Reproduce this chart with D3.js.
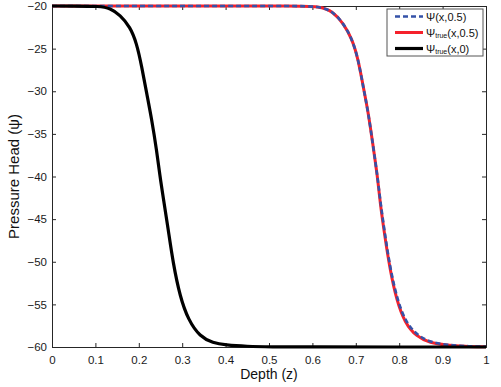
<!DOCTYPE html>
<html>
<head>
<meta charset="utf-8">
<script src="https://cdn.jsdelivr.net/npm/d3@7"></script>
<style>
  body { margin: 0; background: #fff; }
  svg { font-family: "Liberation Sans", Arial, Helvetica, sans-serif; }
</style>
</head>
<body>
<div id="chart"></div>
<script>
// ---- data ----
var xTicks = [0, 0.1, 0.2, 0.3, 0.4, 0.5, 0.6, 0.7, 0.8, 0.9, 1];
var yTicks = [-60, -55, -50, -45, -40, -35, -30, -25, -20];

// psi_true(x,0)
var xBlack   = [0, 0.05, 0.11, 0.134, 0.157, 0.180, 0.195, 0.207, 0.218, 0.230, 0.241, 0.249, 0.256, 0.268, 0.279, 0.295, 0.314, 0.341, 0.371, 0.399, 0.45, 0.5, 0.6, 0.8, 1];
var psiBlack = [-20, -20, -20.02, -20.27, -21.06, -22.46, -24.34, -27.16, -30.2, -33.37, -36.9, -40.06, -42.37, -46.28, -50.15, -54.1, -56.83, -58.8, -59.53, -59.77, -59.93, -59.98, -60, -60, -60];

// psi_true(x,0.5)
var xRed   = [0, 0.2, 0.4, 0.55, 0.6175, 0.648, 0.671, 0.691, 0.706, 0.717, 0.729, 0.740, 0.750, 0.756, 0.767, 0.779, 0.794, 0.813, 0.840, 0.871, 0.909, 0.95, 1];
var psiRed = [-20, -20, -20, -20, -20.02, -20.67, -22.03, -23.79, -26.33, -29.47, -32.55, -36.5, -40.0, -43.1, -47.06, -50.97, -54.49, -57.18, -58.79, -59.53, -59.77, -59.92, -59.97];

// psi(x,0.5)
var xBlue   = [0, 0.2, 0.4, 0.55, 0.6175, 0.648, 0.671, 0.691, 0.706, 0.717, 0.729, 0.740, 0.750, 0.757, 0.768, 0.780, 0.796, 0.815, 0.843, 0.874, 0.912, 0.95, 1];
var psiBlue = [-20, -20, -20, -20, -20.02, -20.67, -22.03, -23.79, -26.33, -29.47, -32.55, -36.5, -40.0, -43.1, -47.06, -50.97, -54.49, -57.1, -58.7, -59.48, -59.75, -59.9, -59.97];

// ---- layout ----
var W = 501, H = 387;
var margin = {top: 6, right: 15, bottom: 40, left: 52};
var width = 486 - margin.left,
    height = 347 - margin.top;

var svg = d3.select("#chart").append("svg")
    .attr("width", W).attr("height", H);

var g = svg.append("g")
    .attr("transform", "translate(" + margin.left + "," + margin.top + ")");

var x = d3.scaleLinear().domain([0, 1]).range([0, width]);
var y = d3.scaleLinear().domain([-60, -20]).range([height, 0]);

var fmt = function(d) { return d < 0 ? "\u2212" + Math.abs(d) : String(d); };

// axes, ticks pointing inward (matlab style)
var axCol = "#262626";
var xAx = g.append("g").attr("transform", "translate(0," + height + ")")
    .call(d3.axisBottom(x).tickValues(xTicks).tickSize(-4).tickPadding(9).tickFormat(fmt));
var xTop = g.append("g")
    .call(d3.axisTop(x).tickValues(xTicks).tickSize(-4).tickFormat(""));
var yAx = g.append("g")
    .call(d3.axisLeft(y).tickValues(yTicks).tickSize(-4).tickPadding(5).tickFormat(fmt));
var yRight = g.append("g").attr("transform", "translate(" + width + ",0)")
    .call(d3.axisRight(y).tickValues(yTicks).tickSize(-4).tickFormat(""));

[xAx, xTop, yAx, yRight].forEach(function(a) {
  a.select(".domain").attr("stroke", axCol).attr("stroke-width", 1);
  a.selectAll(".tick line").attr("stroke", axCol);
  a.selectAll(".tick text").attr("fill", "#1a1a1a").style("font-size", "11.5px");
});

// curves (basis spline smooths out reading noise)
var line = d3.line().curve(d3.curveBasis);
var toPts = function(xs, ys) { return xs.map(function(v, i) { return [x(v), y(ys[i])]; }); };

g.append("path")
    .attr("d", line(toPts(xRed, psiRed)))
    .attr("fill", "none").attr("stroke", "#f5212b").attr("stroke-width", 3);

g.append("path")
    .attr("d", line(toPts(xBlue, psiBlue)))
    .attr("fill", "none").attr("stroke", "#3552a8").attr("stroke-width", 2.6)
    .attr("stroke-dasharray", "5,3");

g.append("path")
    .attr("d", line(toPts(xBlack, psiBlack)))
    .attr("fill", "none").attr("stroke", "#000").attr("stroke-width", 3.2);

// axis labels
svg.append("text")
    .attr("x", margin.left + width / 2).attr("y", 379)
    .attr("text-anchor", "middle")
    .style("font-size", "14px").attr("fill", "#111")
    .text("Depth (z)");

svg.append("text")
    .attr("transform", "translate(19," + (margin.top + height / 2) + ") rotate(-90)")
    .attr("text-anchor", "middle")
    .style("font-size", "15px").attr("fill", "#111")
    .text("Pressure Head (\u03C8)");

// legend
var leg = svg.append("g").attr("transform", "translate(387,9)");
leg.append("rect")
    .attr("width", 96).attr("height", 47)
    .attr("fill", "#fff").attr("stroke", "#555").attr("stroke-width", 1);

var legItems = [
  {color: "#3552a8", w: 2.6, dash: "5,3", main: "\u03A8", sub: "", rest: "(x,0.5)"},
  {color: "#f5212b", w: 3, dash: null, main: "\u03A8", sub: "true", rest: "(x,0.5)"},
  {color: "#000", w: 3.2, dash: null, main: "\u03A8", sub: "true", rest: "(x,0)"}
];

legItems.forEach(function(d, i) {
  var yy = 7.5 + i * 16;
  leg.append("line")
      .attr("x1", 8).attr("x2", 36).attr("y1", yy).attr("y2", yy)
      .attr("stroke", d.color).attr("stroke-width", d.w)
      .attr("stroke-dasharray", d.dash);
  var t = leg.append("text")
      .attr("x", 39).attr("y", yy + 4)
      .style("font-size", "11px").attr("fill", "#111");
  t.append("tspan").text(d.main);
  if (d.sub) {
    t.append("tspan").attr("dy", 1.5).style("font-size", "7px").text(d.sub);
    t.append("tspan").attr("dy", -1.5).text(d.rest);
  } else {
    t.append("tspan").text(d.rest);
  }
});
</script>
</body>
</html>
